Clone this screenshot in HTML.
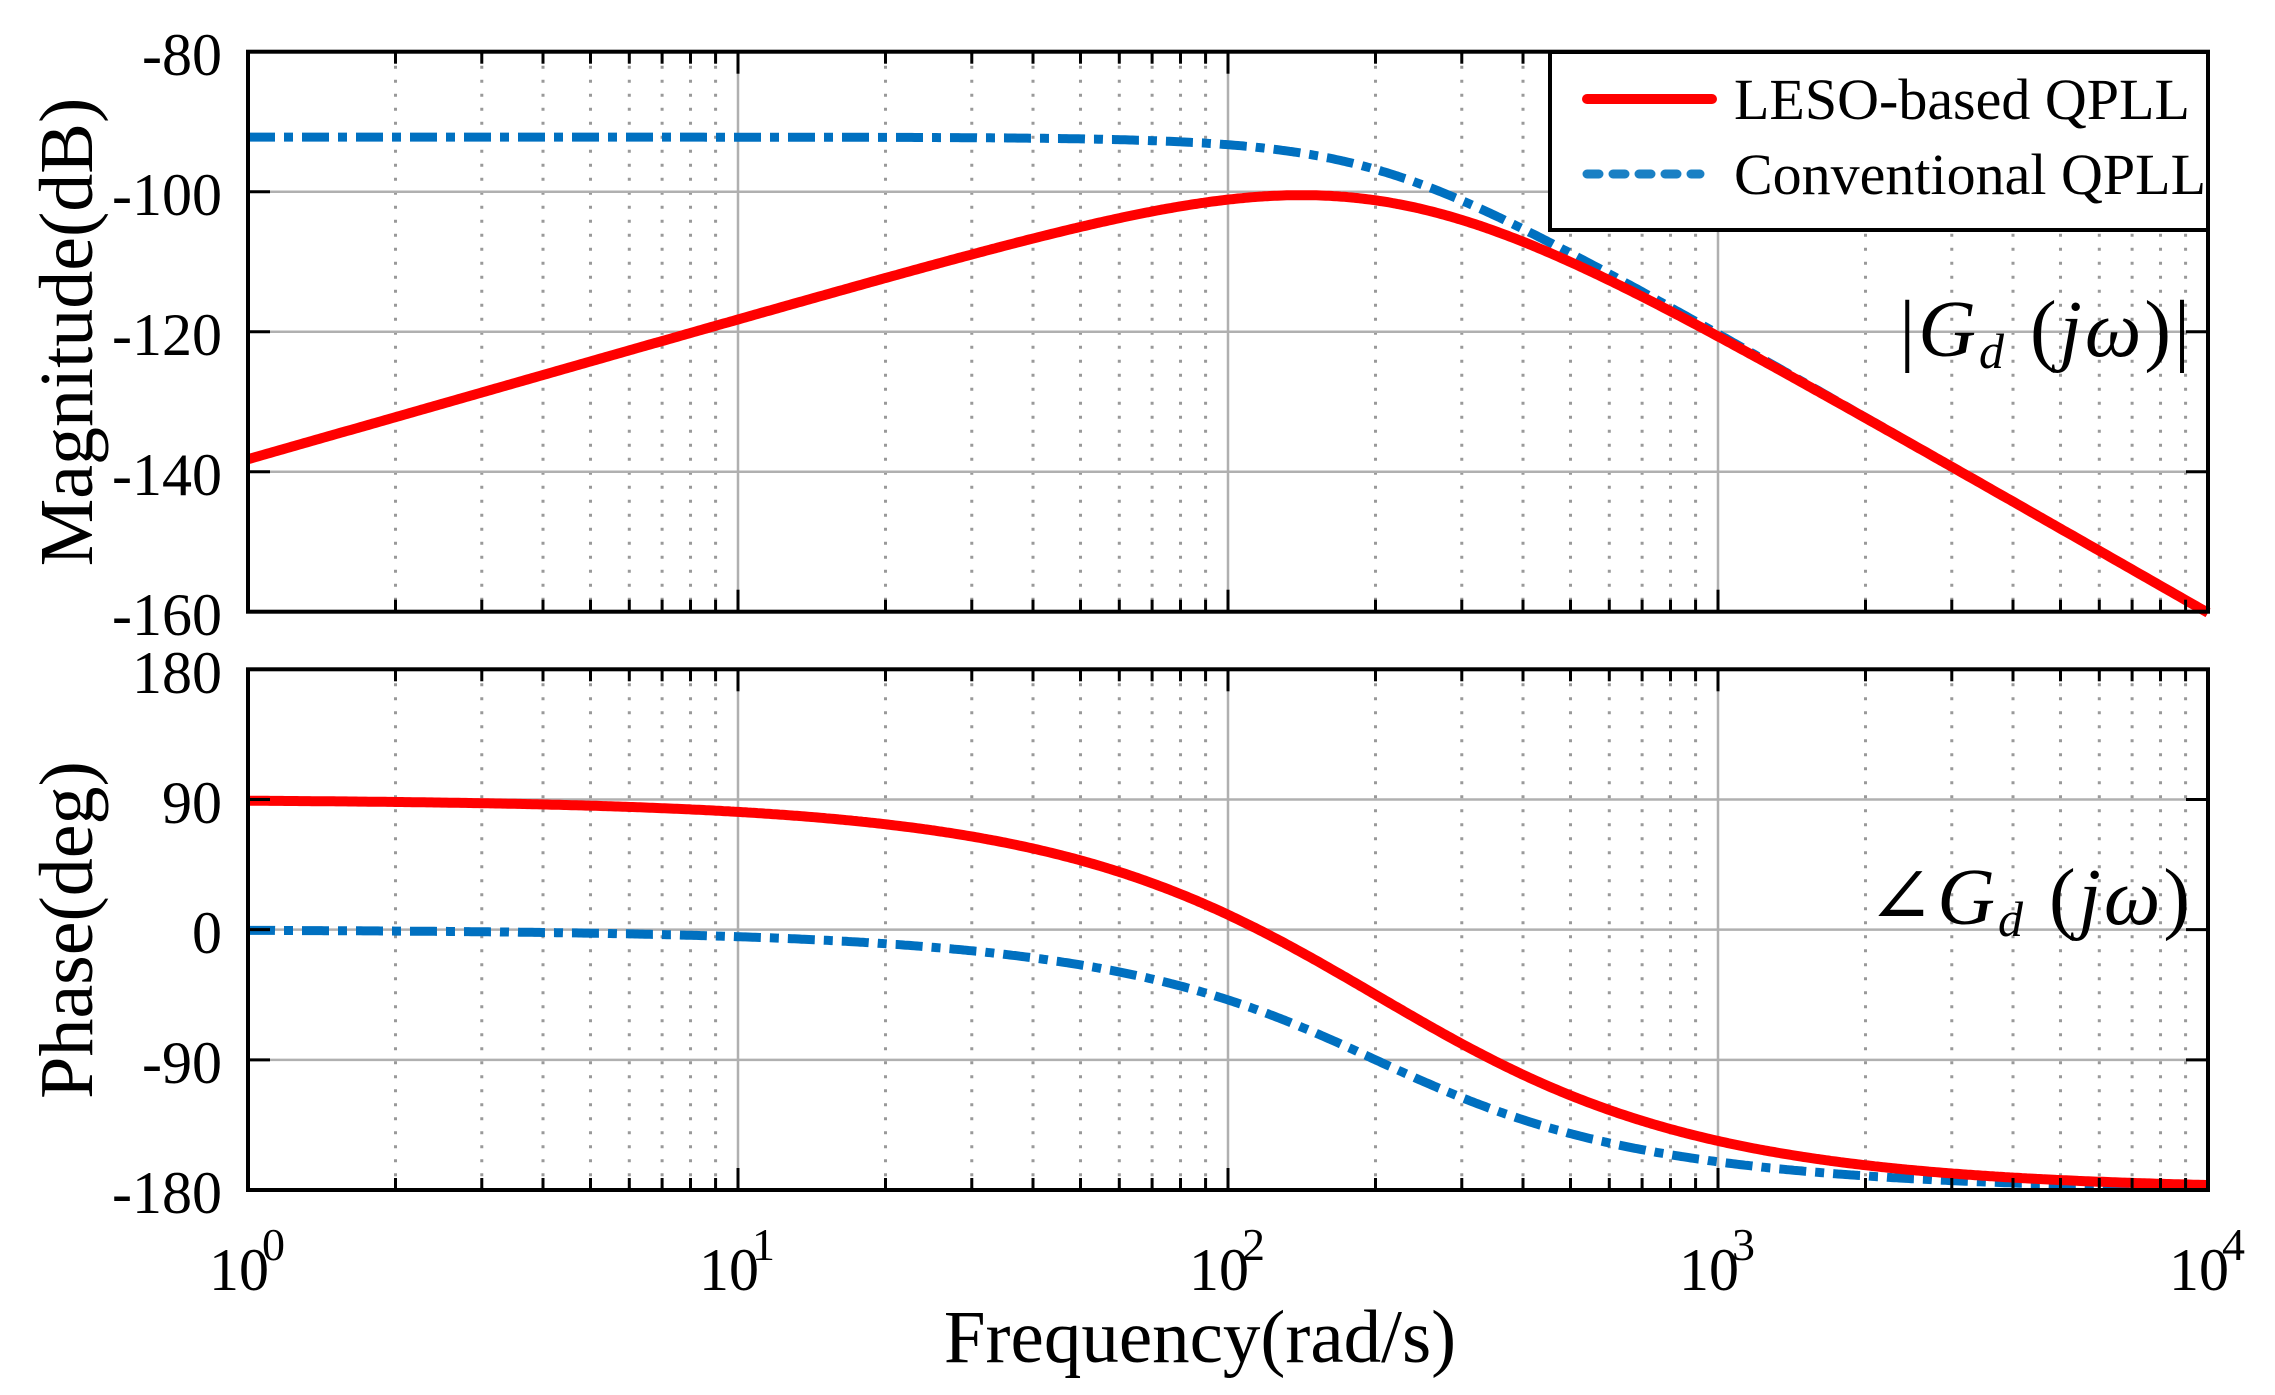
<!DOCTYPE html>
<html><head><meta charset="utf-8"><style>
html,body{margin:0;padding:0;background:#fff}
svg{display:block}
text{font-family:"Liberation Serif","DejaVu Serif",serif;fill:#000}
</style></head><body>
<svg id="s" width="2275" height="1395" viewBox="0 0 2275 1395" xmlns="http://www.w3.org/2000/svg">
<g id="grid"></g>
<g id="curves"></g>
<g id="axes"></g>
<rect x="1550" y="52" width="658" height="178" fill="#fff" stroke="#000" stroke-width="4"/>
<line x1="1587" y1="99" x2="1712" y2="99" stroke="#f00" stroke-width="10" stroke-linecap="round"/>
<line x1="1587" y1="174" x2="1700" y2="174" stroke="#1a80c4" stroke-width="9" stroke-linecap="round" stroke-dasharray="12 14"/>
<text x="1734" y="119" font-size="58">LESO-based QPLL</text>
<text x="1734" y="194" font-size="58">Conventional QPLL</text>
<text x="2193" y="356" font-size="80" font-style="italic" text-anchor="end" letter-spacing="3"><tspan font-style="normal">|</tspan>G<tspan font-size="50" dy="12">d</tspan><tspan dy="-12" font-style="normal"> (</tspan>jω<tspan font-style="normal">)|</tspan></text>
<text x="2193" y="924" font-size="80" font-style="italic" text-anchor="end" letter-spacing="3"><tspan font-style="normal">∠</tspan>G<tspan font-size="50" dy="12">d</tspan><tspan dy="-12" font-style="normal"> (</tspan>jω<tspan font-style="normal">)</tspan></text>
<g font-size="60" text-anchor="end">
<text x="222" y="75">-80</text>
<text x="222" y="215">-100</text>
<text x="222" y="355">-120</text>
<text x="222" y="495">-140</text>
<text x="222" y="635">-160</text>
<text x="222" y="693">180</text>
<text x="222" y="823">90</text>
<text x="222" y="953">0</text>
<text x="222" y="1083">-90</text>
<text x="222" y="1213">-180</text>
</g>
<g font-size="60" id="xt"></g>
<text x="1200" y="1362" font-size="75" text-anchor="middle">Frequency(rad/s)</text>
<text transform="translate(92,332) rotate(-90)" font-size="76" text-anchor="middle">Magnitude(dB)</text>
<text transform="translate(92,930) rotate(-90)" font-size="76" text-anchor="middle">Phase(deg)</text>
</svg>
<script>
var NS="http://www.w3.org/2000/svg";
function el(p,t,a){var e=document.createElementNS(NS,t);for(var k in a)e.setAttribute(k,a[k]);p.appendChild(e);return e;}
var L=248,R=2208,D=490;
var mT=51.7,mB=611.7,pT=669.3,pB=1190;
function X(w){return L+Math.log10(w)*D;}
function YM(db){return mT+(-80-db)*7;}
function YP(d){return pT+(180-d)*(pB-pT)/360;}
var g=document.getElementById('grid'),ax=document.getElementById('axes'),cv=document.getElementById('curves');
[[mT,mB],[pT,pB]].forEach(function(r){
 for(var dec=0;dec<4;dec++){for(var m=2;m<=9;m++){var x=X(m*Math.pow(10,dec));
  el(g,'line',{x1:x,y1:r[0],x2:x,y2:r[1],stroke:'#999','stroke-width':3,'stroke-dasharray':'3 11'});
  el(ax,'line',{x1:x,y1:r[1],x2:x,y2:r[1]-12,stroke:'#000','stroke-width':3});
  el(ax,'line',{x1:x,y1:r[0],x2:x,y2:r[0]+12,stroke:'#000','stroke-width':3});}}
 for(var dec=1;dec<4;dec++){var x=X(Math.pow(10,dec));
  el(g,'line',{x1:x,y1:r[0],x2:x,y2:r[1],stroke:'#b0b0b0','stroke-width':2.5});
  el(ax,'line',{x1:x,y1:r[1],x2:x,y2:r[1]-22,stroke:'#000','stroke-width':3});
  el(ax,'line',{x1:x,y1:r[0],x2:x,y2:r[0]+22,stroke:'#000','stroke-width':3});}
});
[-100,-120,-140].forEach(function(v){var y=YM(v);
 el(g,'line',{x1:L,y1:y,x2:R,y2:y,stroke:'#b0b0b0','stroke-width':2.5});
 el(ax,'line',{x1:L,y1:y,x2:L+22,y2:y,stroke:'#000','stroke-width':3});
 el(ax,'line',{x1:R,y1:y,x2:R-22,y2:y,stroke:'#000','stroke-width':3});});
[90,0,-90].forEach(function(v){var y=YP(v);
 el(g,'line',{x1:L,y1:y,x2:R,y2:y,stroke:'#b0b0b0','stroke-width':2.5});
 el(ax,'line',{x1:L,y1:y,x2:L+22,y2:y,stroke:'#000','stroke-width':3});
 el(ax,'line',{x1:R,y1:y,x2:R-22,y2:y,stroke:'#000','stroke-width':3});});
el(ax,'rect',{x:L,y:mT,width:R-L,height:mB-mT,fill:'none',stroke:'#000','stroke-width':4});
el(ax,'rect',{x:L,y:pT,width:R-L,height:pB-pT,fill:'none',stroke:'#000','stroke-width':4});
var wn=200,a=200,K0=-92.2;
function conv(w){var u=w/wn,re=1-u*u,im=2*0.85*u;return [K0-20*Math.log10(Math.hypot(re,im)),-Math.atan2(im,re)*180/Math.PI];}
function leso(w){var u=w/wn,re=1-u*u,im=2*1.0*u;var mag=K0-20*Math.log10(Math.hypot(re,im))+20*Math.log10(w/Math.hypot(w,a));
 var ph=90-Math.atan(w/a)*180/Math.PI-Math.atan2(im,re)*180/Math.PI;return [mag,ph];}
function path(f,i,Y){var s='';for(var k=0;k<=800;k++){var w=Math.pow(10,4*k/800);var v=f(w);s+=(k?'L':'M')+X(w).toFixed(1)+','+Y(v[i]).toFixed(1);}return s;}
el(cv,'path',{d:path(conv,0,YM),fill:'none',stroke:'#0070c0','stroke-width':9,'stroke-dasharray':'27 9 9 9'});
el(cv,'path',{d:path(conv,1,YP),fill:'none',stroke:'#0070c0','stroke-width':9,'stroke-dasharray':'27 9 9 9'});
el(cv,'path',{d:path(leso,0,YM),fill:'none',stroke:'#f00','stroke-width':10});
el(cv,'path',{d:path(leso,1,YP),fill:'none',stroke:'#f00','stroke-width':10});
var xt=document.getElementById('xt');
for(var d=0;d<=4;d++){var x=X(Math.pow(10,d));
 var t=el(xt,'text',{x:x-39,y:1290});t.textContent='10';
 var s=el(xt,'text',{x:x+14,y:1260,'font-size':46});s.textContent=''+d;}
</script>
</body></html>
